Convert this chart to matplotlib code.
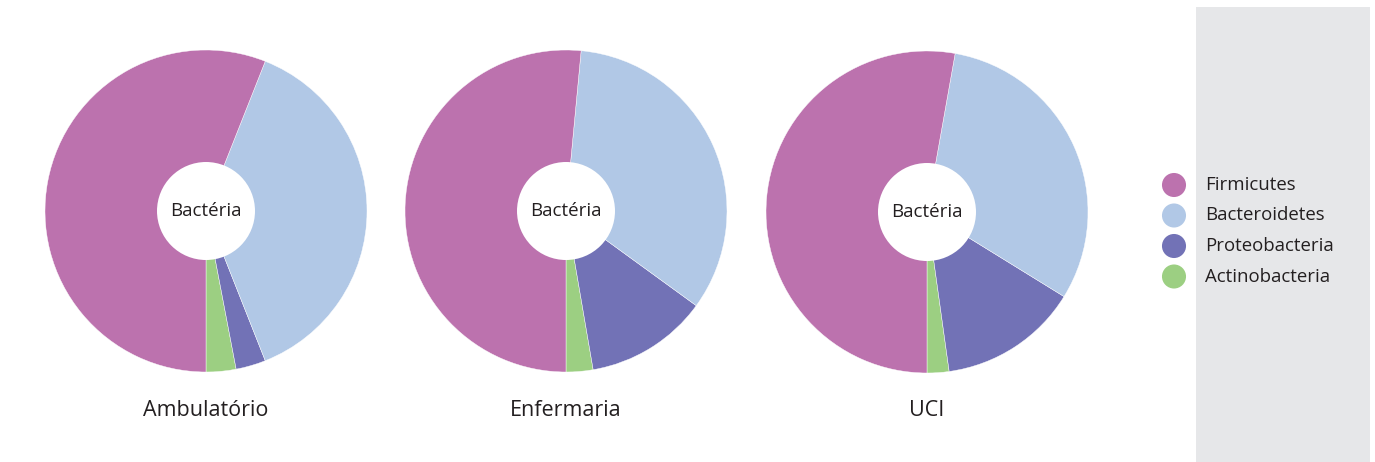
import matplotlib.pyplot as plt
from matplotlib.patches import Circle, Rectangle

plt.rcParams["font.family"] = ["Open Sans", "DejaVu Sans"]

phyla = ["Firmicutes", "Bacteroidetes", "Proteobacteria", "Actinobacteria"]
colors = ["#bc72ae", "#b1c8e6", "#7272b6", "#9ccf82"]
groups = ["Ambulatório", "Enfermaria", "UCI"]

ambulatorio = [56, 38, 3, 3]
enfermaria = [51.5, 33.5, 12.3, 2.7]
uci = [52.8, 31, 14, 2.2]

W, H = 1375, 462


def draw_donut(ax, values, cx, cy, name):
    # counter-clockwise from 6 o'clock: Actinobacteria first, Firmicutes last
    ax.pie(values[::-1], colors=colors[::-1], startangle=-90,
           counterclock=True, center=(cx, cy), radius=161, frame=True,
           wedgeprops=dict(edgecolor="white", linewidth=0.3))
    ax.add_patch(Circle((cx, cy), 49, facecolor="white", edgecolor="none",
                        zorder=3))
    ax.text(cx, cy, "Bactéria", ha="center", va="center", fontsize=13.5,
            color="#231f20", zorder=4)
    ax.text(cx, H - 410, name, ha="center", va="center", fontsize=15.5,
            color="#231f20")


fig = plt.figure(figsize=(W / 100, H / 100), dpi=100)
ax = fig.add_axes([0, 0, 1, 1])

ax.add_patch(Rectangle((1196, 0), 174, H - 7, facecolor="#e6e7e9",
                       edgecolor="none", zorder=0))

for values, cx, cy, name in zip([ambulatorio, enfermaria, uci],
                                [206, 566, 927], [251, 251, 250], groups):
    draw_donut(ax, values, cx, cy, name)

# legend
for i, (label, c) in enumerate(zip(phyla, colors)):
    y = H - (185 + 30.5 * i)
    ax.scatter(1174, y, s=300, color=c, edgecolor="none", zorder=3)
    ax.text(1205, y, label, ha="left", va="center", fontsize=13.4,
            color="#231f20")

ax.set_xlim(0, W)
ax.set_ylim(0, H)
ax.set_aspect("equal")
ax.axis("off")

fig.savefig("out.png", dpi=100)
